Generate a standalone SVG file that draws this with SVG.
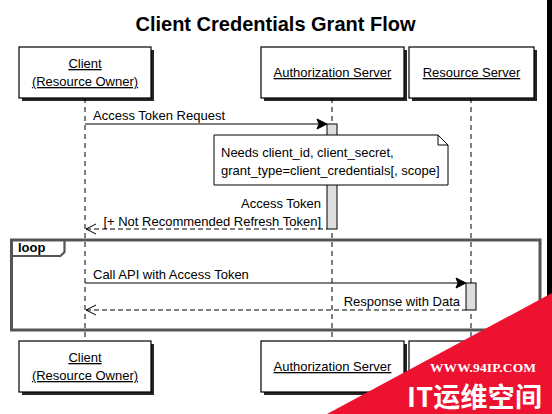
<svg xmlns="http://www.w3.org/2000/svg" width="552" height="414" viewBox="0 0 552 414">
<style>
text{font-family:"Liberation Sans",Arial,sans-serif;font-size:13px;fill:#000}
.title{font-size:20px;font-weight:bold}
.u{text-decoration:underline}
.box{fill:#fff;stroke:#000;stroke-width:1.2}
.shadow{fill:#000;opacity:0.85}
.life{stroke:#000;stroke-width:1;stroke-dasharray:5,4;fill:none}
.msg{stroke:#000;stroke-width:1;fill:none}
.ret{stroke:#000;stroke-width:1;stroke-dasharray:5,3;fill:none}
.act{fill:#ddd;stroke:#000;stroke-width:1}
.frame{fill:none;stroke:#555;stroke-width:3}
.head{fill:#000;stroke:#000;stroke-width:1}
.open{fill:none;stroke:#000;stroke-width:1}
</style>
<defs>
<filter id="sh" x="-10%" y="-10%" width="130%" height="130%">
<feGaussianBlur stdDeviation="0.7"/>
</filter>
</defs>
<rect width="552" height="414" fill="#fff"/>
<rect x="547" y="0" width="5" height="414" fill="#000"/>
<text class="title" x="275.5" y="31" text-anchor="middle">Client Credentials Grant Flow</text>

<g id="connectors">
<line class="life" x1="85" y1="98" x2="85" y2="341"/>
<line class="life" x1="332" y1="98" x2="332" y2="341"/>
<line class="life" x1="471" y1="98" x2="471" y2="341"/>
<g id="loop">
<rect class="frame" x="11.5" y="240" width="528.5" height="90"/>
<path d="M11.5,240 H64.5 V252 L60.5,256 H11.5" fill="none" stroke="#555" stroke-width="2.2"/>
<text x="18" y="252" font-weight="bold">loop</text>
</g>
<rect class="act" x="327" y="124" width="10" height="105"/>
<rect class="act" x="466" y="283" width="10" height="27"/>
<line class="msg" x1="85" y1="124" x2="318" y2="124"/>
<polygon class="head" points="317,119 327,124 317,129 319,124"/>
<text x="93" y="120">Access Token Request</text>
<line class="ret" x1="86" y1="229" x2="327" y2="229"/>
<polyline class="open" points="96,224 86,229 96,234"/>
<text x="321" y="208" text-anchor="end">Access Token</text>
<text x="321" y="226" text-anchor="end">[+ Not Recommended Refresh Token]</text>
<line class="msg" x1="85" y1="283" x2="457" y2="283"/>
<polygon class="head" points="456,278 466,283 456,288 458,283"/>
<text x="93" y="279">Call API with Access Token</text>
<line class="ret" x1="86" y1="310" x2="466" y2="310"/>
<polyline class="open" points="96,305 86,310 96,315"/>
<text x="460" y="306" text-anchor="end">Response with Data</text>
</g>

<g id="note">
<path d="M214,135 H438 L448,145 V185 H214 Z" fill="#fff" stroke="#000" stroke-width="1"/>
<path d="M438,135 V145 H448" fill="none" stroke="#000" stroke-width="1"/>
<text x="221" y="157">Needs client_id, client_secret,</text>
<text x="221" y="175">grant_type=client_credentials[, scope]</text>
</g>

<g id="client-top">
<rect class="shadow" x="22" y="50" width="132" height="51" filter="url(#sh)"/>
<rect class="box" x="19" y="47" width="132" height="51"/>
<text class="u" x="85" y="68" text-anchor="middle">Client</text>
<text class="u" x="85" y="86" text-anchor="middle">(Resource Owner)</text>
</g>
<g id="auth-top">
<rect class="shadow" x="264" y="50" width="143" height="51" filter="url(#sh)"/>
<rect class="box" x="261" y="47" width="143" height="51"/>
<text class="u" x="332.5" y="77" text-anchor="middle">Authorization Server</text>
</g>
<g id="resource-top">
<rect class="shadow" x="412" y="50" width="125" height="51" filter="url(#sh)"/>
<rect class="box" x="409" y="47" width="125" height="51"/>
<text class="u" x="471.5" y="77" text-anchor="middle">Resource Server</text>
</g>

<g id="client-bottom">
<rect class="shadow" x="22" y="344" width="132" height="51" filter="url(#sh)"/>
<rect class="box" x="19" y="341" width="132" height="51"/>
<text class="u" x="85" y="362" text-anchor="middle">Client</text>
<text class="u" x="85" y="380" text-anchor="middle">(Resource Owner)</text>
</g>
<g id="auth-bottom">
<rect class="shadow" x="264" y="344" width="143" height="51" filter="url(#sh)"/>
<rect class="box" x="261" y="341" width="143" height="51"/>
<text class="u" x="332.5" y="371" text-anchor="middle">Authorization Server</text>
</g>
<g id="resource-bottom">
<rect class="shadow" x="412" y="344" width="125" height="51" filter="url(#sh)"/>
<rect class="box" x="409" y="341" width="125" height="51"/>
</g>

<g id="watermark">
<polygon points="327,414 552,293 552,414" fill="#ec1230"/>
<text x="430" y="371.5" style="fill:#fff;font-family:'Liberation Serif',serif;font-size:13.5px;font-weight:bold" textLength="106">WWW.94IP.COM</text>
<text x="407" y="407" style="fill:#fff;font-family:'Noto Sans CJK SC','Liberation Sans',sans-serif;font-size:27px;font-weight:bold" textLength="135">IT运维空间</text>
</g>
</svg>
